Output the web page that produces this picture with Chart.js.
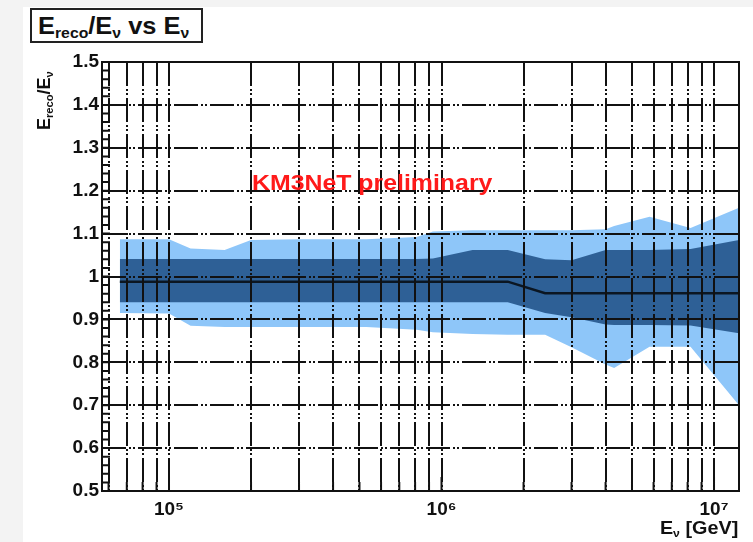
<!DOCTYPE html>
<html>
<head>
<meta charset="utf-8">
<script src="https://cdn.jsdelivr.net/npm/chart.js@4.4.1/dist/chart.umd.min.js"></script>
<style>
  body { margin: 0; width: 753px; height: 542px; background: #f3f3f3; overflow: hidden;
         font-family: 'Liberation Sans', Arial, sans-serif; }
  #paper { position: absolute; left: 23px; top: 7px; right: 0; bottom: 0; background: #fff; }
  #chart { position: absolute; left: 0; top: 0; }
  .lbl { position: absolute; font-weight: bold; color: #111; white-space: nowrap; }
  .lbl sub { font-size: 62%; vertical-align: -0.3em; line-height: 0; }
  #title { left: 30px; top: 8px; width: 163px; height: 31px; border: 2px solid #222; background: #fff;
           font-size: 24px; line-height: 32px; padding-left: 6px; }
  #title span { display: inline-block; transform: scaleX(1.06); transform-origin: 0 50%; }
  #ytitle { left: 33px; top: 130px; font-size: 18px; line-height: 22px;
            transform-origin: 0 0; transform: rotate(-90deg); }
  #xtitle { right: 15px; top: 517px; font-size: 18px; line-height: 22px; }
  #xtitle span { display: inline-block; transform: scaleX(1.1); transform-origin: 100% 50%; }
  #prelim { left: 252px; top: 170px; font-size: 22px; line-height: 26px; color: #ff1a1a;
            transform: scaleX(1.13); transform-origin: 0 50%; }
</style>
</head>
<body>
<div id="paper"></div>
<canvas id="chart" width="753" height="542"></canvas>
<div class="lbl" id="title"><span>E<sub>reco</sub>/E<sub>ν</sub> vs E<sub>ν</sub></span></div>
<div class="lbl" id="ytitle">E<sub>reco</sub>/E<sub>ν</sub></div>
<div class="lbl" id="xtitle"><span>E<sub>ν</sub> [GeV]</span></div>
<div class="lbl" id="prelim">KM3NeT preliminary</div>
<script>
const energies   = [6.6e4, 1.0e5, 1.2e5, 1.6e5, 2.0e5, 3.0e5, 5.3e5, 8.1e5, 9.3e5, 1.3e6, 1.75e6, 2.4e6, 3.0e6, 4.0e6, 4.3e6, 5.8e6, 8.2e6, 1.235e7];
const median     = [0.988, 0.988, 0.988, 0.988, 0.988, 0.988, 0.988, 0.988, 0.988, 0.988, 0.988, 0.961, 0.961, 0.961, 0.961, 0.961, 0.961, 0.961];
const innerUpper = [1.041, 1.041, 1.041, 1.041, 1.041, 1.041, 1.041, 1.041, 1.042, 1.062, 1.062, 1.040, 1.038, 1.062, 1.062, 1.062, 1.064, 1.085];
const innerLower = [0.940, 0.940, 0.940, 0.940, 0.940, 0.940, 0.940, 0.940, 0.940, 0.940, 0.940, 0.915, 0.905, 0.888, 0.887, 0.887, 0.886, 0.868];
const outerUpper = [1.087, 1.087, 1.065, 1.062, 1.085, 1.087, 1.087, 1.092, 1.105, 1.108, 1.108, 1.108, 1.108, 1.110, 1.118, 1.139, 1.113, 1.160];
const outerLower = [0.915, 0.914, 0.885, 0.882, 0.882, 0.882, 0.882, 0.876, 0.870, 0.866, 0.864, 0.864, 0.835, 0.795, 0.787, 0.836, 0.836, 0.700];

const xTicks = [6e4, 7e4, 8e4, 9e4,
                1e5, 2e5, 3e5, 4e5, 5e5, 6e5, 7e5, 8e5, 9e5,
                1e6, 2e6, 3e6, 4e6, 5e6, 6e6, 7e6, 8e6, 9e6, 1e7];
const xLabelValues = [1e5, 1e6, 1e7];
const xLabelTexts  = ['10⁵', '10⁶', '10⁷'];
const yTicks = [0.5, 0.6, 0.7, 0.8, 0.9, 1.0, 1.1, 1.2, 1.3, 1.4, 1.5];
const yTickLabels = ['0.5', '0.6', '0.7', '0.8', '0.9', '1', '1.1', '1.2', '1.3', '1.4', '1.5'];

const LIGHT = '#8ec6f9';
const DARK = '#2e6096';
const DASH = [24, 3, 2, 2, 2, 3];

const pts = arr => energies.map((e, i) => ({ x: e, y: arr[i] }));

// ROOT style frame + small inner ticks
const frameTicks = {
  id: 'frameTicks',
  afterDraw(chart) {
    const { ctx, chartArea: a, scales: { x, y } } = chart;
    ctx.save();
    ctx.strokeStyle = '#111';
    ctx.lineWidth = 2;
    ctx.beginPath();
    for (let k = 0; k <= 50; k++) {
      const py = y.getPixelForValue(0.5 + k * 0.02);
      ctx.moveTo(a.left, py);
      ctx.lineTo(a.left + 8, py);
    }
    xTicks.forEach(v => {
      const px = x.getPixelForValue(v);
      const len = xLabelValues.includes(v) ? 14 : 9;
      ctx.moveTo(px, a.bottom);
      ctx.lineTo(px, a.bottom - len);
    });
    ctx.stroke();
    ctx.strokeRect(a.left, a.top, a.right - a.left, a.bottom - a.top);
    ctx.restore();
  }
};

new Chart(document.getElementById('chart'), {
  type: 'line',
  data: {
    datasets: [
      { data: pts(median), borderColor: '#0b1622', borderWidth: 2.5, fill: false },
      { data: pts(innerUpper), borderWidth: 0, backgroundColor: DARK, fill: '+1' },
      { data: pts(innerLower), borderWidth: 0, fill: false },
      { data: pts(outerUpper), borderWidth: 0, backgroundColor: LIGHT, fill: '+1' },
      { data: pts(outerLower), borderWidth: 0, fill: false }
    ]
  },
  options: {
    responsive: false,
    animation: false,
    elements: { point: { radius: 0 }, line: { tension: 0 } },
    layout: { padding: { top: 62, right: 14, left: 0, bottom: 0 } },
    plugins: { legend: { display: false }, tooltip: { enabled: false } },
    scales: {
      x: {
        type: 'logarithmic',
        min: 5.677e4,
        max: 1.235e7,
        afterBuildTicks: s => { s.ticks = xTicks.map(v => ({ value: v })); },
        afterFit: s => { s.height = 51; },
        grid: { color: '#111', lineWidth: 2, drawTicks: false, z: 1 },
        border: { display: false, dash: DASH },
        ticks: {
          autoSkip: false, maxRotation: 0, padding: 7, color: '#111',
          font: { family: 'Liberation Sans', size: 19, weight: 'bold' },
          callback: v => {
            const i = xLabelValues.indexOf(v);
            return i >= 0 ? xLabelTexts[i] : '';
          }
        }
      },
      y: {
        min: 0.5,
        max: 1.5,
        afterBuildTicks: s => { s.ticks = yTicks.map(v => ({ value: v })); },
        afterFit: s => { s.width = 102; },
        grid: { color: '#111', lineWidth: 2, drawTicks: false, z: 1 },
        border: { display: false, dash: DASH },
        ticks: {
          padding: 3, color: '#111',
          font: { family: 'Liberation Sans', size: 19, weight: 'bold' },
          callback: (v, i) => yTickLabels[i]
        }
      }
    }
  },
  plugins: [frameTicks]
});
</script>
</body>
</html>
